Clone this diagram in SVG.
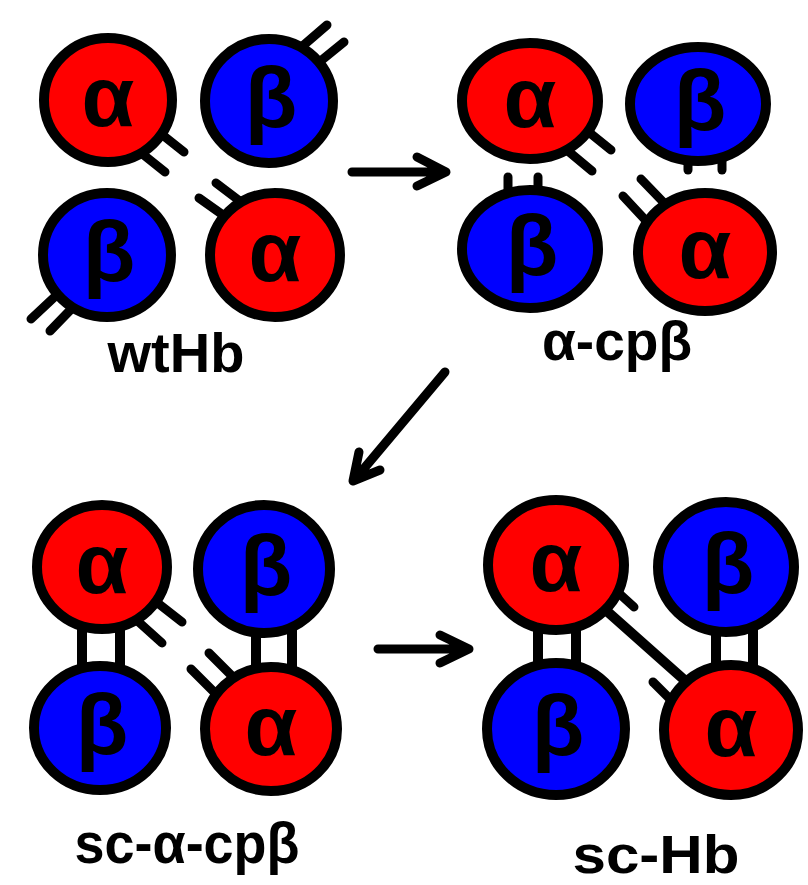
<svg xmlns="http://www.w3.org/2000/svg" width="808" height="885" viewBox="0 0 808 885">
<style>
.ring{stroke:#000;stroke-width:10}
.a{fill:#ff0000}
.b{fill:#0000ff}
.g{font-family:"Liberation Sans",Arial,sans-serif;font-weight:bold;font-size:86px;text-anchor:middle;fill:#000}
.stick{stroke:#000;stroke-width:9;stroke-linecap:round;fill:none}
.bar{stroke:#000;stroke-width:10;fill:none}
.arrow{stroke:#000;stroke-width:9;stroke-linecap:round;stroke-linejoin:round;fill:none}
.label{font-family:"Liberation Sans",Arial,sans-serif;font-weight:bold;text-anchor:middle;fill:#000}
</style>
<rect width="808" height="885" fill="#fff"/>

<!-- connectors / bonds -->
<g id="connectors">
  <!-- wtHb sticks -->
  <line class="stick" x1="150" y1="125" x2="184" y2="152"/>
  <line class="stick" x1="135" y1="148" x2="165" y2="172"/>
  <line class="stick" x1="298" y1="50" x2="327" y2="25"/>
  <line class="stick" x1="312" y1="68" x2="344" y2="42"/>
  <line class="stick" x1="230" y1="220" x2="199" y2="198"/>
  <line class="stick" x1="245" y1="205" x2="216" y2="183"/>
  <line class="stick" x1="62" y1="290" x2="31" y2="319"/>
  <line class="stick" x1="80" y1="300" x2="50" y2="331"/>
  <!-- alpha-cpbeta sticks -->
  <line class="stick" x1="580" y1="125" x2="611" y2="150"/>
  <line class="stick" x1="562" y1="146" x2="592" y2="171"/>
  <line class="stick" x1="508" y1="177" x2="508" y2="195"/>
  <line class="stick" x1="538" y1="177" x2="538" y2="195"/>
  <line class="stick" x1="688" y1="155" x2="688" y2="170"/>
  <line class="stick" x1="722" y1="155" x2="722" y2="170"/>
  <line class="stick" x1="650" y1="225" x2="623" y2="196"/>
  <line class="stick" x1="668" y1="207" x2="641" y2="179"/>
  <!-- sc-alpha-cpbeta bonds -->
  <line class="bar" x1="82" y1="620" x2="82" y2="675"/>
  <line class="bar" x1="120" y1="620" x2="120" y2="675"/>
  <line class="bar" x1="256" y1="625" x2="256" y2="678"/>
  <line class="bar" x1="292" y1="625" x2="292" y2="678"/>
  <line class="stick" x1="150" y1="597" x2="182" y2="622"/>
  <line class="stick" x1="132" y1="616" x2="162" y2="643"/>
  <line class="stick" x1="222" y1="700" x2="191" y2="669"/>
  <line class="stick" x1="238" y1="682" x2="209" y2="653"/>
  <!-- sc-Hb bonds -->
  <line class="bar" x1="538" y1="620" x2="538" y2="675"/>
  <line class="bar" x1="576" y1="620" x2="576" y2="675"/>
  <line class="bar" x1="716" y1="622" x2="716" y2="677"/>
  <line class="bar" x1="753" y1="622" x2="753" y2="677"/>
  <line class="bar" x1="600" y1="605" x2="690" y2="685"/>
  <line class="stick" x1="612" y1="587" x2="634" y2="607"/>
  <line class="stick" x1="676" y1="705" x2="653" y2="682"/>
  <!-- arrows -->
  <path class="arrow" d="M352,172 H444 M417,157 L446,172 L417,186"/>
  <path class="arrow" d="M445,372 L356,478 M359,452 L353,481 L380,470"/>
  <path class="arrow" d="M378,649 H467 M440,635 L469,649 L440,663"/>
</g>

<!-- wtHb -->
<g id="wt-alpha1"><ellipse class="ring a" cx="108" cy="100" rx="64" ry="62"/><text class="g" x="108" y="126">α</text></g>
<g id="wt-beta1"><ellipse class="ring b" cx="269" cy="101" rx="64" ry="62"/><text class="g" x="271" y="127">β</text></g>
<g id="wt-beta2"><ellipse class="ring b" cx="107" cy="255" rx="64" ry="62"/><text class="g" x="109" y="281">β</text></g>
<g id="wt-alpha2"><ellipse class="ring a" cx="275" cy="255" rx="65" ry="62"/><text class="g" x="275" y="281">α</text></g>
<text id="label-wtHb" class="label" x="176" y="372" font-size="56">wtHb</text>

<!-- alpha-cpbeta -->
<g id="cp-alpha1"><ellipse class="ring a" cx="530" cy="101" rx="68" ry="58"/><text class="g" x="530" y="127">α</text></g>
<g id="cp-beta1"><ellipse class="ring b" cx="698" cy="104" rx="68" ry="57"/><text class="g" x="700" y="130">β</text></g>
<g id="cp-beta2"><ellipse class="ring b" cx="530" cy="249" rx="68" ry="59"/><text class="g" x="532" y="275">β</text></g>
<g id="cp-alpha2"><ellipse class="ring a" cx="705" cy="252" rx="67" ry="59"/><text class="g" x="705" y="278">α</text></g>
<text id="label-acpb" class="label" x="617" y="360" font-size="55" textLength="150" lengthAdjust="spacingAndGlyphs">α-cpβ</text>

<!-- sc-alpha-cpbeta -->
<g id="sc-alpha1"><ellipse class="ring a" cx="102" cy="567" rx="65" ry="62"/><text class="g" x="102" y="593">α</text></g>
<g id="sc-beta1"><ellipse class="ring b" cx="264" cy="569" rx="66" ry="64"/><text class="g" x="266" y="595">β</text></g>
<g id="sc-beta2"><ellipse class="ring b" cx="100" cy="728" rx="66" ry="62"/><text class="g" x="102" y="754">β</text></g>
<g id="sc-alpha2"><ellipse class="ring a" cx="271" cy="729" rx="66" ry="62"/><text class="g" x="271" y="755">α</text></g>
<text id="label-scacpb" class="label" x="187" y="863" font-size="58" textLength="225" lengthAdjust="spacingAndGlyphs">sc-α-cpβ</text>

<!-- sc-Hb -->
<g id="schb-alpha1"><ellipse class="ring a" cx="556" cy="565" rx="68" ry="65"/><text class="g" x="556" y="591">α</text></g>
<g id="schb-beta1"><ellipse class="ring b" cx="726" cy="567" rx="68" ry="65"/><text class="g" x="728" y="593">β</text></g>
<g id="schb-beta2"><ellipse class="ring b" cx="556" cy="729" rx="69" ry="66"/><text class="g" x="558" y="755">β</text></g>
<g id="schb-alpha2"><ellipse class="ring a" cx="731" cy="730" rx="67" ry="65"/><text class="g" x="731" y="756">α</text></g>
<text id="label-schb" class="label" x="656" y="873" font-size="54" textLength="167" lengthAdjust="spacingAndGlyphs">sc-Hb</text>
</svg>
